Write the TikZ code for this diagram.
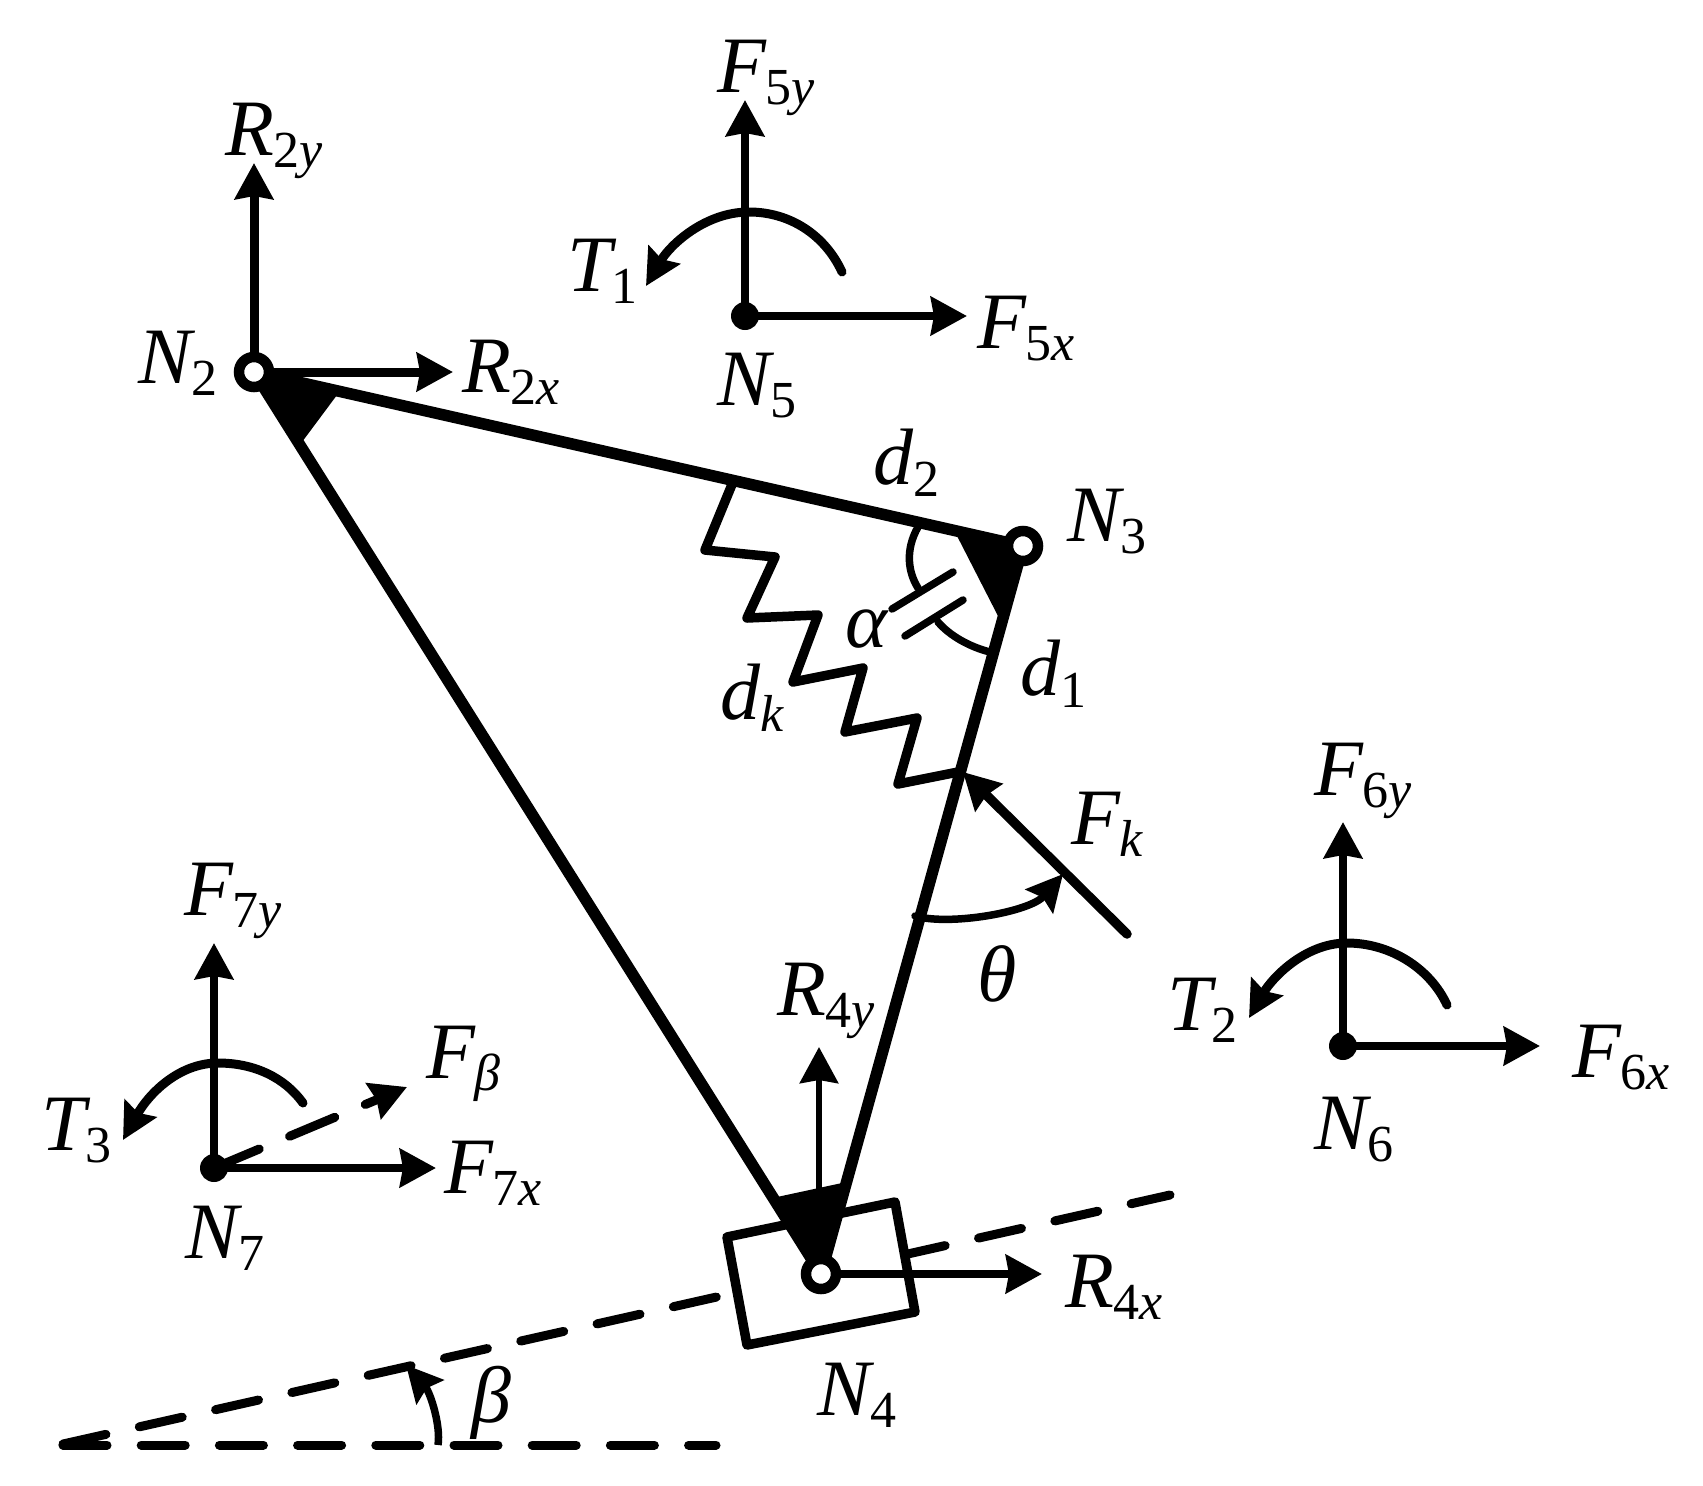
\documentclass[tikz,border=0pt]{standalone}
\usepackage{fontspec}
\setmainfont{Liberation Serif}
\usetikzlibrary{arrows.meta}
\tikzset{
  tip/.style={-{Stealth[length=36pt,width=38pt,inset=3pt]}},
  smalltip/.style={-{Stealth[length=36pt,width=36pt,inset=5pt]}},
  force/.style={line width=8.5pt,tip},
  link/.style={line width=11.5pt,line cap=round},
  moment/.style={line width=9pt,line cap=round,smalltip},
  arcline/.style={line width=7.5pt,line cap=round},
  springline/.style={line width=9.5pt,line cap=round,line join=round},
  dashline/.style={line width=9pt,line cap=round,dash pattern=on 44pt off 34.2pt},
  pinjoint/.style={circle,draw,fill=white,line width=10.5pt,minimum size=30pt,inner sep=0pt,outer sep=0pt},
  dotjoint/.style={circle,fill,minimum size=28pt,inner sep=0pt,outer sep=0pt},
  lab/.style={anchor=base west,inner sep=0pt,outer sep=0pt},
}
\newcommand{\lb}[2]{{\fontsize{80}{80}\selectfont\itshape #1\raisebox{-12pt}{\fontsize{52}{52}\selectfont #2}}}
\begin{document}
\begin{tikzpicture}[x=1pt,y=-1pt]
\useasboundingbox (0,0) rectangle (1703,1486);
\fill[white] (0,0) rectangle (1703,1486);
% coordinates
\coordinate (P2) at (254,372);
\coordinate (P3) at (1023,546);
\coordinate (P4) at (821,1274);
\coordinate (P5) at (745,316);
\coordinate (P6) at (1343,1046);
\coordinate (P7) at (214,1168);
\coordinate (O) at (63,1444);
\coordinate (H) at (716,1445);
\coordinate (S) at (1170,1195);
% slope and datum
\draw[dashline] (O |- H) -- (H);
\draw[dashline] (O) -- (S);
% slider
\draw[line width=9.5pt,fill=white,line join=round] (727,1237) -- (895,1202) -- (915,1312) -- (747,1345) -- cycle;
% links
\draw[link] (P2) -- (P3);
\draw[link] (P2) -- (P4);
\draw[link] (P3) -- (P4);
\fill (P2) -- (337,395) -- (302,442) -- cycle;
\fill (955,532) -- (P3) -- (998,616) -- cycle;
\fill (777,1197) -- (842,1183) -- (P4) -- cycle;
% spring
\draw[springline] (733,482) -- (705,550) -- (775,557) -- (747,618) -- (818,615) -- (793,682) -- (863,668) -- (845,732) -- (917,718) -- (898,784) -- (958,772);
% alpha mark
\draw[arcline] (918,527) .. controls (905,550) and (908,572) .. (918,588);
\draw[arcline] (938,622) .. controls (950,636) and (970,647) .. (990,652);
\draw[arcline] (892,609) -- (953,572);
\draw[arcline] (905,636) -- (963,600);
% Fk and theta
\coordinate (Fk0) at (1127,934);
\coordinate (Fk1) at (963,772);
\draw[line width=9.5pt,line cap=round,tip] (Fk0) -- (Fk1);
\draw[arcline,smalltip] (915,916) .. controls (950,926) and (1030,912) .. (1063,874);
% beta
\draw[arcline,line cap=butt,smalltip] (438,1445) .. controls (441,1425) and (430,1392) .. (406,1365);
% reactions
\coordinate (R2yT) at (254,163);
\coordinate (R2xT) at (453,372);
\draw[force,line width=9pt] (P2) -- (R2yT);
\draw[force,line width=9pt] (P2) -- (R2xT);
\coordinate (R4yB) at (819,1192);
\coordinate (R4yT) at (819,1047);
\coordinate (R4xT) at (1042,1274);
\draw[force,line width=6.5pt] (R4yB) -- (R4yT);
\draw[force] (P4) -- (R4xT);
% N5
\coordinate (F5yT) at (745,100);
\coordinate (F5xT) at (967,316);
\draw[force] (P5) -- (F5yT);
\draw[force] (P5) -- (F5xT);
\draw[moment] (842,272) .. controls (825,235) and (790,212) .. (749,212) .. controls (705,212) and (670,245) .. (646,286);
% N6
\coordinate (F6yT) at (1343,822);
\coordinate (F6xT) at (1540,1046);
\draw[force] (P6) -- (F6yT);
\draw[force] (P6) -- (F6xT);
\draw[moment] (1447,1005) .. controls (1430,968) and (1390,943) .. (1347,943) .. controls (1305,943) and (1272,978) .. (1249,1018);
% N7
\coordinate (F7yT) at (214,943);
\coordinate (F7xT) at (436,1168);
\coordinate (FbT) at (407,1087);
\draw[force] (P7) -- (F7yT);
\draw[force] (P7) -- (F7xT);
\draw[moment] (303,1103) .. controls (285,1078) and (255,1063) .. (218,1063) .. controls (178,1063) and (148,1095) .. (123,1140);
\draw[line width=9pt,line cap=round,dash pattern=on 49pt off 33pt,tip] (P7) -- (FbT);
% joints
\node[pinjoint] (N2) at (P2) {};
\node[pinjoint] (N3) at (P3) {};
\node[pinjoint] (N4) at (P4) {};
\node[dotjoint] (N5) at (P5) {};
\node[dotjoint] (N6) at (P6) {};
\node[dotjoint] (N7) at (P7) {};
% labels
\node[lab] (tR2y) at (225,155) {\lb{R}{\textup{2}y}};
\node[lab] (tN2) at (138,383) {\lb{N}{\textup{2}}};
\node[lab] (tR2x) at (462,392) {\lb{R}{\textup{2}x}};
\node[lab] (tT1) at (567,291) {\lb{T}{\textup{1}}};
\node[lab] (tF5y) at (717,92) {\lb{F}{\textup{5}y}};
\node[lab] (tF5x) at (977,348) {\lb{F}{\textup{5}x}};
\node[lab] (tN5) at (717,405) {\lb{N}{\textup{5}}};
\node[lab] (td2) at (873,484) {\lb{d}{\textup{2}}};
\node[lab] (tN3) at (1067,541) {\lb{N}{\textup{3}}};
\node[lab] (talpha) at (845,647) {\lb{α}{}};
\node[lab] (td1) at (1020,695) {\lb{d}{\textup{1}}};
\node[lab] (tdk) at (720,719) {\lb{d}{k}};
\node[lab] (tFk) at (1071,844) {\lb{F}{k}};
\node[lab] (ttheta) at (977,1001) {\lb{θ}{}};
\node[lab] (tR4y) at (777,1015) {\lb{R}{\textup{4}y}};
\node[lab] (tR4x) at (1065,1307) {\lb{R}{\textup{4}x}};
\node[lab] (tN4) at (817,1415) {\lb{N}{\textup{4}}};
\node[lab] (tF6y) at (1314,795) {\lb{F}{\textup{6}y}};
\node[lab] (tT2) at (1167,1030) {\lb{T}{\textup{2}}};
\node[lab] (tF6x) at (1572,1077) {\lb{F}{\textup{6}x}};
\node[lab] (tN6) at (1314,1149) {\lb{N}{\textup{6}}};
\node[lab] (tF7y) at (184,915) {\lb{F}{\textup{7}y}};
\node[lab] (tFb) at (426,1078) {\lb{F}{β}};
\node[lab] (tT3) at (41,1150) {\lb{T}{\textup{3}}};
\node[lab] (tF7x) at (444,1193) {\lb{F}{\textup{7}x}};
\node[lab] (tN7) at (185,1258) {\lb{N}{\textup{7}}};
\node[lab] (tbeta) at (471,1422) {\lb{β}{}};
\end{tikzpicture}
\end{document}
